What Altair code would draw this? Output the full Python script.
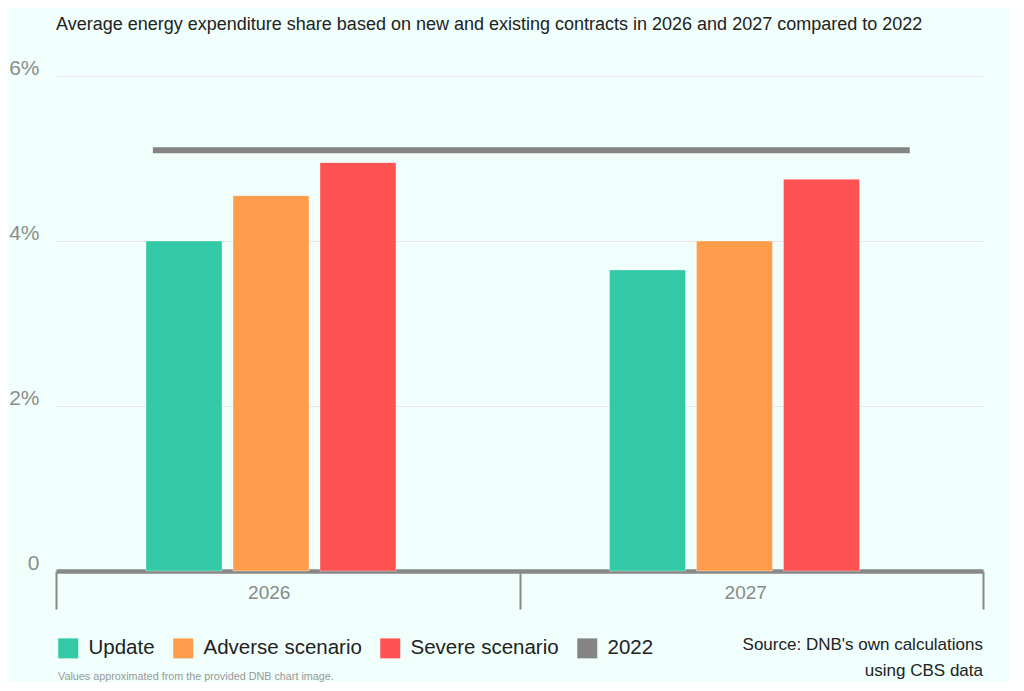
import altair as alt
import pandas as pd

# ---- data ----
years = ["2026", "2027"]
series = ["Update", "Adverse scenario", "Severe scenario"]
update_vals = [4.0, 3.65]
adverse_vals = [4.55, 4.0]
severe_vals = [4.95, 4.75]
ref_label = "2022"
ref_value = 5.1
legend_order = ["Update", "Adverse scenario", "Severe scenario", "2022"]
colors = ["#33C9A7", "#FF9D4D", "#FF5252", "#848484"]
y_ticks = [0, 2, 4, 6]
title_text = ("Average energy expenditure share based on new and existing "
              "contracts in 2026 and 2027 compared to 2022")
source_lines = ["Source: DNB's own calculations", "using CBS data"]
note_text = "Values approximated from the provided DNB chart image."

rows = []
for i, yr in enumerate(years):
    for s, vals in zip(series, [update_vals, adverse_vals, severe_vals]):
        rows.append({"year": yr, "series": s, "value": vals[i]})
bars_df = pd.DataFrame(rows)
ref_df = pd.DataFrame([{"start": years[0], "end": years[-1],
                        "series": ref_label, "value": ref_value}])
src_df = pd.DataFrame({"t": ["\n".join(source_lines)]})
note_df = pd.DataFrame({"t": [note_text]})

FONT = "Liberation Sans"
W, H = 927, 495

color_scale = alt.Scale(domain=legend_order, range=colors)
x_scale = alt.Scale(domain=years, paddingInner=0, paddingOuter=0)
y_scale = alt.Scale(domain=[0, 6], nice=False)

x_axis = alt.Axis(
    title=None, labelAngle=0, tickBand="extent", tickSize=38, tickWidth=2,
    tickColor="#888888", domainColor="#888888", domainWidth=4.5,
    labelFontSize=19, labelColor="#888888", labelFont=FONT, labelPadding=-26,
    labelOffset={"condition": {"test": "datum.value == '2026'", "value": -19}, "value": -6},
)
y_axis = alt.Axis(
    title=None, values=y_ticks,
    labelExpr="datum.value == 0 ? '0' : datum.value + '%'",
    domain=False, ticks=False, grid=True, gridColor="#ece6ea", gridWidth=1,
    labelFontSize=21, labelColor="#8c8c8c", labelFont=FONT, labelPadding=17,
    labelBaseline="alphabetic", labelOffset=-2,
)

bars = alt.Chart(bars_df).mark_bar(stroke="white", strokeWidth=1, strokeOpacity=0.35).encode(
    x=alt.X("year:N", scale=x_scale, sort=years, axis=x_axis),
    xOffset=alt.XOffset("series:N", sort=series,
                        scale=alt.Scale(range=[90, 340], paddingInner=0.126, paddingOuter=0)),
    y=alt.Y("value:Q", scale=y_scale, axis=y_axis),
    color=alt.Color("series:N", scale=color_scale, sort=legend_order,
                    legend=alt.Legend(
                        title=None, orient="none", legendX=2, legendY=562,
                        direction="horizontal", columns=4, symbolType="square",
                        symbolSize=400, symbolStrokeWidth=0, labelFontSize=20.5,
                        labelFont=FONT, labelColor="#222222", labelOffset=10,
                        columnPadding=18)),
)

rule = alt.Chart(ref_df).mark_rule(strokeWidth=6, strokeCap="butt").encode(
    x=alt.X("start:N", scale=x_scale, bandPosition=0.209, axis=x_axis),
    x2=alt.X2("end", bandPosition=0.842),
    y=alt.Y("value:Q", scale=y_scale, axis=y_axis),
    color=alt.Color("series:N", scale=color_scale, legend=None),
)

src = alt.Chart(src_df).mark_text(
    align="right", baseline="alphabetic", fontSize=17, lineHeight=26,
    lineBreak="\n", font=FONT, color="#222222",
).encode(x=alt.value(W), y=alt.value(574), text="t:N")

note = alt.Chart(note_df).mark_text(
    align="left", baseline="alphabetic", fontSize=10.8, font=FONT, color="#999999",
).encode(x=alt.value(2), y=alt.value(604), text="t:N")

chart = alt.layer(bars, rule, src, note).properties(
    width=W, height=H,
    title=alt.TitleParams(title_text, anchor="start", frame="group", fontSize=18,
                          font=FONT, color="#222222", fontWeight="normal", offset=23),
    padding={"left": 0, "top": 8, "right": 25, "bottom": 0},
    background="#f0fffb",
).configure_view(strokeWidth=0)

chart.save("out.html", embed_options={"renderer": "svg", "actions": False})
